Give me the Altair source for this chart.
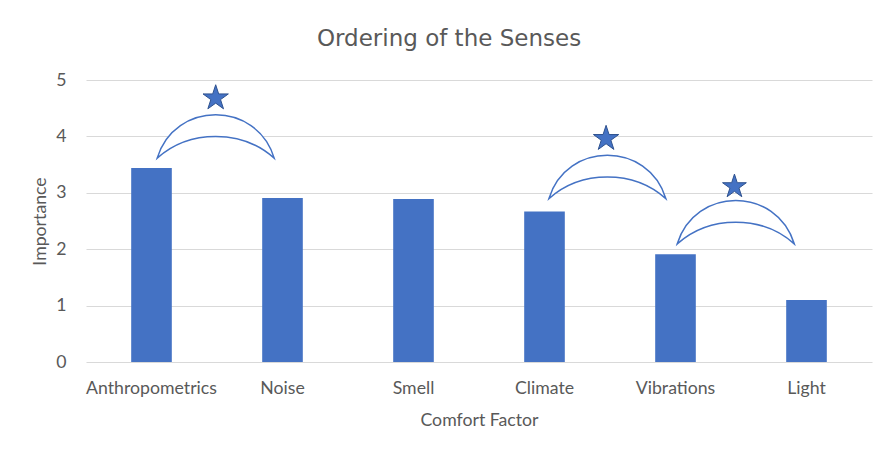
import altair as alt
import pandas as pd

# ---- data ----
categories = ["Anthropometrics", "Noise", "Smell", "Climate", "Vibrations", "Light"]
importance = [3.44, 2.91, 2.89, 2.67, 1.91, 1.10]

# significance brackets (position in category-index units) and stars
bracket_pos = [0.49, 3.48, 4.46]
bracket_y = [4.00, 3.28, 2.48]
star_pos = [0.49, 3.47, 4.45]
star_y = [4.68, 3.96, 3.11]
star_size = [708, 708, 625]

BLUE = "#4472C4"
GREY = "#595959"
FONT = "Lato"

bars_df = pd.DataFrame({"cat": categories, "val": importance})
br_df = pd.DataFrame({"pos": bracket_pos, "y": bracket_y})
st_df = pd.DataFrame({"pos": star_pos, "y": star_y, "s": star_size})

crescent = ("M -1 0.371 C -0.7 -0.617 0.7 -0.617 1 0.371 "
            "C 0.45 -0.123 -0.45 -0.123 -1 0.371 Z")
star = ("M 0 -1 L 0.2245 -0.309 L 0.9511 -0.309 L 0.3633 0.118 L 0.5878 0.809 "
        "L 0 0.382 L -0.5878 0.809 L -0.3633 0.118 L -0.9511 -0.309 L -0.2245 -0.309 Z")

yscale = alt.Scale(domain=[0, 5], nice=False, zero=True)
xq = alt.Scale(domain=[-0.5, 5.5], nice=False, zero=False)

bars = alt.Chart(bars_df).mark_bar(color=BLUE).encode(
    x=alt.X("cat:N", sort=categories,
            scale=alt.Scale(paddingInner=0.69, paddingOuter=0.345),
            axis=alt.Axis(title="Comfort Factor", labelAngle=0, domain=False,
                          ticks=False, tickSize=0, labelPadding=17,
                          labelFont=FONT, labelFontSize=17.7, labelColor=GREY,
                          titleFont=FONT, titleFontSize=17.7, titleColor=GREY,
                          titleFontWeight="normal", titlePadding=15)),
    y=alt.Y("val:Q", scale=yscale,
            axis=alt.Axis(title="Importance", values=[0, 1, 2, 3, 4, 5], format="d",
                          domain=False, ticks=False, tickSize=0, labelPadding=20,
                          gridColor="#D9D9D9", gridWidth=1,
                          labelFont=FONT, labelFontSize=17.7, labelColor=GREY,
                          titleFont=FONT, titleFontSize=17.7, titleColor=GREY,
                          titleFontWeight="normal", titlePadding=6)),
)

brackets = alt.Chart(br_df).mark_point(
    shape=crescent, size=13689, filled=True, fill="white", stroke=BLUE,
    strokeWidth=1.5, opacity=1
).encode(
    x=alt.X("pos:Q", scale=xq, axis=None),
    y=alt.Y("y:Q", scale=yscale),
)

stars = alt.Chart(st_df).mark_point(
    shape=star, filled=True, fill=BLUE, stroke="#2F528F", strokeWidth=1, opacity=1
).encode(
    x=alt.X("pos:Q", scale=xq, axis=None),
    y=alt.Y("y:Q", scale=yscale),
    size=alt.Size("s:Q", scale=None),
)

chart = alt.layer(bars, brackets, stars).resolve_scale(x="independent").properties(
    width=786, height=282,
    padding={"left": 78, "top": 72, "right": 4, "bottom": 72},
    autosize=alt.AutoSizeParams(type="none"),
    title=alt.TitleParams("Ordering of the Senses", font="DejaVu Sans", fontSize=23,
                          fontWeight="normal", color=GREY, anchor="middle",
                          baseline="alphabetic", offset=2, dx=-30),
).configure(background="white").configure_view(strokeWidth=0, stroke="transparent")

chart.save("out.html", embed_options={"renderer": "svg", "actions": False})
